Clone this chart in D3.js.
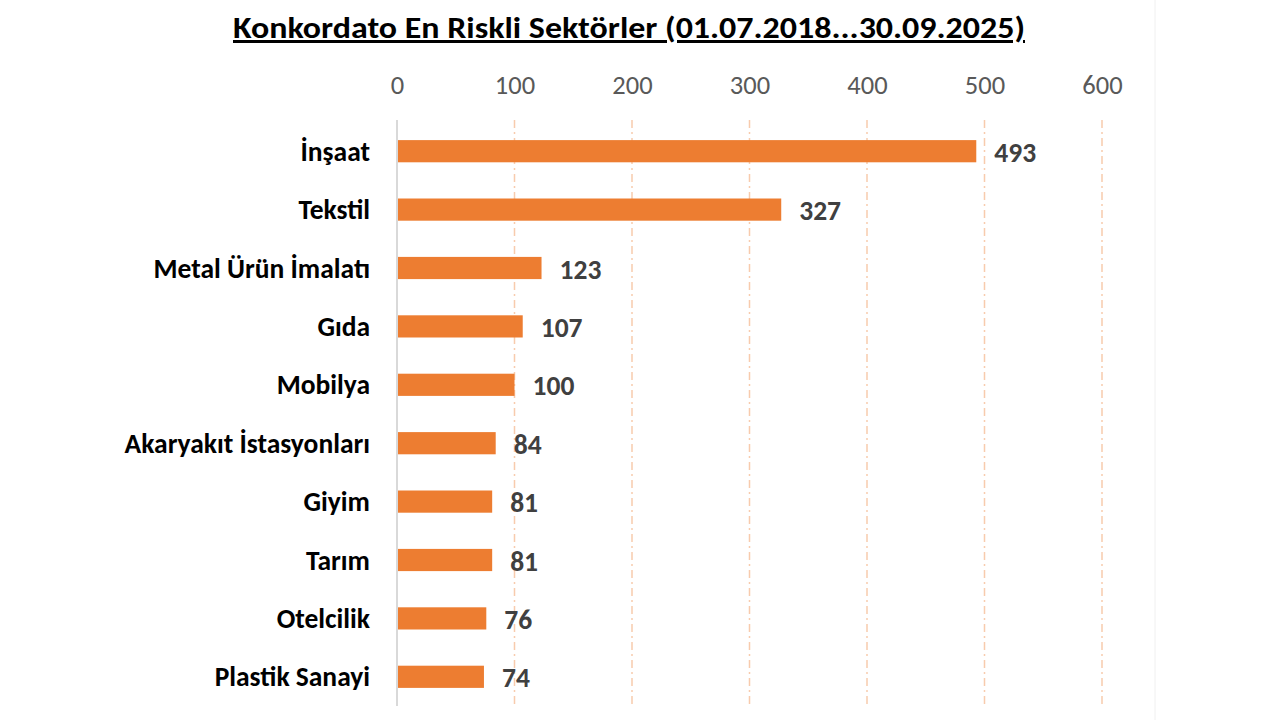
<!DOCTYPE html>
<html>
<head>
<meta charset="utf-8">
<script src="https://cdn.jsdelivr.net/npm/d3@7"></script>
<style>
  body { margin: 0; background: #fff; }
  text { font-family: Carlito, Lato, "Open Sans", sans-serif; }
</style>
</head>
<body>
<svg id="chart"></svg>
<script>
// sectors and bankruptcy (konkordato) counts
let sectors = ["İnşaat", "Tekstil", "Metal Ürün İmalatı", "Gıda", "Mobilya",
    "Akaryakıt İstasyonları", "Giyim", "Tarım", "Otelcilik", "Plastik Sanayi"];
let counts = [493, 327, 123, 107, 100, 84, 81, 81, 76, 74];
let xTicks = [0, 100, 200, 300, 400, 500, 600];
let title = "Konkordato En Riskli Sektörler (01.07.2018...30.09.2025)";

let width = 1280;
let height = 720;
let plotLeft = 397, plotRight = 1102, plotTop = 122, plotBottom = 706;

let chart = d3.select("#chart").attr("width", width).attr("height", height);

let xscale = d3.scaleLinear()
    .domain([0, 600])
    .range([plotLeft, plotRight]);

let yscale = d3.scaleBand()
    .domain(sectors)
    .range([plotTop, plotBottom])
    .paddingInner(0.62)
    .paddingOuter(0.31);

// title
chart.append("text")
    .attr("x", 629)
    .attr("y", 38)
    .attr("text-anchor", "middle")
    .style("font-size", "30px")
    .style("font-weight", "bold")
    .style("text-decoration", "underline")
    .attr("fill", "#000")
    .attr("textLength", 792)
    .attr("lengthAdjust", "spacingAndGlyphs")
    .text(title);

// right faint border
chart.append("line")
    .attr("x1", 1155).attr("x2", 1155)
    .attr("y1", 0).attr("y2", height)
    .attr("stroke", "#f0f0f0").attr("stroke-width", 1);

// grid lines (dash-dot)
chart.append("g")
    .selectAll("line")
    .data(xTicks.filter(d => d > 0))
    .enter().append("line")
    .attr("x1", d => xscale(d)).attr("x2", d => xscale(d))
    .attr("y1", plotTop - 2).attr("y2", plotBottom)
    .attr("stroke", "#f8cbad")
    .attr("stroke-width", 1.5)
    .attr("stroke-dasharray", "8,4,2,4");

// top axis
let axis = chart.append("g")
    .attr("transform", "translate(0," + 94 + ")")
    .call(d3.axisTop(xscale).tickValues(xTicks).tickSize(0).tickPadding(0));
axis.select(".domain").remove();
axis.selectAll("text")
    .style("font-size", "26.5px")
    .attr("fill", "#595959");

// bars
chart.selectAll("rect.bar")
    .data(counts)
    .enter().append("rect")
    .attr("class", "bar")
    .attr("x", xscale(0))
    .attr("y", (d, i) => yscale(sectors[i]))
    .attr("width", d => xscale(d) - xscale(0))
    .attr("height", yscale.bandwidth())
    .attr("fill", "#ed7d31");

// left axis line
chart.append("line")
    .attr("x1", plotLeft).attr("x2", plotLeft)
    .attr("y1", plotTop - 2).attr("y2", plotBottom)
    .attr("stroke", "#d9d9d9").attr("stroke-width", 2);

// category labels
chart.selectAll("text.cat")
    .data(sectors)
    .enter().append("text")
    .attr("class", "cat")
    .attr("x", 370)
    .attr("y", d => yscale(d) + yscale.bandwidth() / 2)
    .attr("dy", "0.35em")
    .attr("text-anchor", "end")
    .style("font-size", "27.5px")
    .style("font-weight", "bold")
    .attr("fill", "#000")
    .text(d => d);

// value labels
chart.selectAll("text.val")
    .data(counts)
    .enter().append("text")
    .attr("class", "val")
    .attr("x", d => xscale(d) + 18)
    .attr("y", (d, i) => yscale(sectors[i]) + yscale.bandwidth() / 2 + 1)
    .attr("dy", "0.35em")
    .style("font-size", "27.5px")
    .style("font-weight", "bold")
    .attr("fill", "#404040")
    .text(d => d);
</script>
</body>
</html>
